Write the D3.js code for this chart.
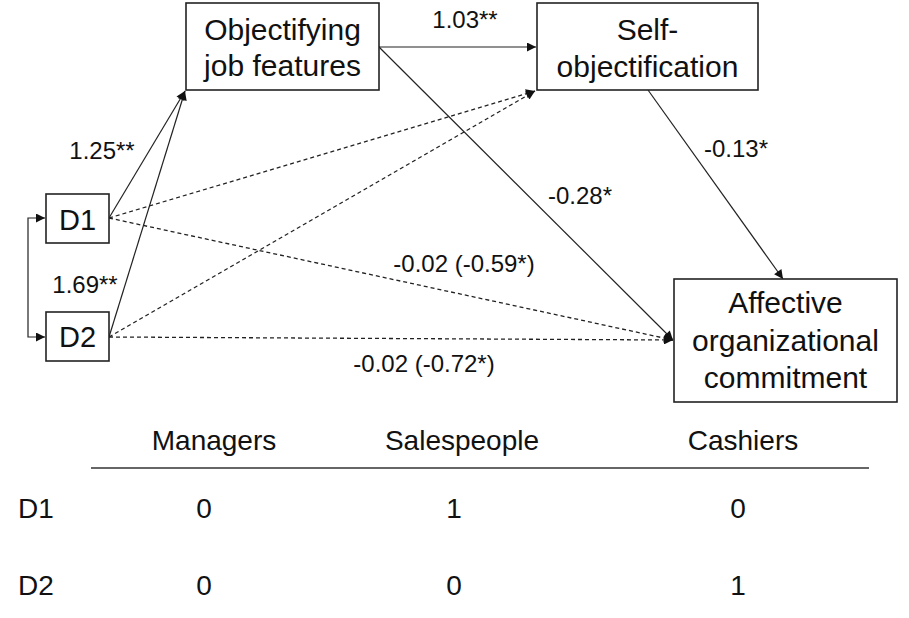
<!DOCTYPE html>
<html>
<head>
<meta charset="utf-8">
<script src="https://cdn.jsdelivr.net/npm/d3@7"></script>
<style>
  body { margin: 0; background: #fff; }
  svg { display: block; font-family: "Liberation Sans", Arial, sans-serif; }
</style>
</head>
<body>
<div id="chart"></div>
<script>
// model variables
const nodeIds = ['D1', 'D2', 'obj', 'self', 'aoc'];
const nodeLabels = [['D1'], ['D2'], ['Objectifying', 'job features'], ['Self-', 'objectification'], ['Affective', 'organizational', 'commitment']];

// structural paths
const pathFrom = ['D1', 'D2', 'obj', 'obj', 'self', 'D1', 'D2', 'D1', 'D2'];
const pathTo = ['obj', 'obj', 'self', 'aoc', 'aoc', 'self', 'self', 'aoc', 'aoc'];
const pathCoef = ['1.25**', '1.69**', '1.03**', '-0.28*', '-0.13*', '', '', '-0.02 (-0.59*)', '-0.02 (-0.72*)'];
const pathSignificant = [true, true, true, true, true, false, false, false, false];

// dummy coding table
const groups = ['Managers', 'Salespeople', 'Cashiers'];
const dummies = ['D1', 'D2'];
const codesD1 = [0, 1, 0];
const codesD2 = [0, 0, 1];

const width = 909, height = 618;

// layout of the boxes (x, y, w, h) and text baselines
const boxes = {
  D1: { x: 46, y: 194, w: 63, h: 49, base: [230], size: 29 },
  D2: { x: 46, y: 312, w: 63, h: 49, base: [347], size: 29 },
  obj: { x: 186, y: 3, w: 193, h: 87, base: [40, 76], size: 30 },
  self: { x: 537, y: 3, w: 221, h: 87, base: [40, 77], size: 30 },
  aoc: { x: 674, y: 279, w: 223, h: 123, base: [313, 351, 388], size: 30 }
};

// where each path leaves / arrives, and where its label sits
const anchors = {
  'D1-obj': { a: [109, 218], b: [185, 91], l: [102, 159] },
  'D2-obj': { a: [109, 337], b: [185, 91], l: [85, 293] },
  'obj-self': { a: [379, 47], b: [536, 47], l: [465, 28] },
  'obj-aoc': { a: [379, 47], b: [673, 340], l: [580, 204] },
  'self-aoc': { a: [648, 90], b: [783, 279], l: [736, 157] },
  'D1-self': { a: [109, 218], b: [535, 91] },
  'D2-self': { a: [109, 337], b: [535, 91] },
  'D1-aoc': { a: [109, 218], b: [673, 340], l: [464, 272] },
  'D2-aoc': { a: [109, 337], b: [673, 340], l: [424, 372] }
};

const svg = d3.select('#chart')
  .append('svg')
  .attr('width', width)
  .attr('height', height);

svg.append('defs').append('marker')
  .attr('id', 'head')
  .attr('viewBox', '0 0 10 10')
  .attr('refX', 10)
  .attr('refY', 5)
  .attr('markerUnits', 'userSpaceOnUse')
  .attr('markerWidth', 11)
  .attr('markerHeight', 9)
  .attr('orient', 'auto-start-reverse')
  .append('path')
  .attr('d', 'M0,0 L10,5 L0,10 z')
  .attr('fill', '#111');

let paths = pathFrom.map((f, i) => {
  let key = f + '-' + pathTo[i];
  return { key, coef: pathCoef[i], sig: pathSignificant[i], pos: anchors[key] };
});

// arrows
svg.append('g')
  .selectAll('line')
  .data(paths)
  .enter().append('line')
  .attr('x1', d => d.pos.a[0])
  .attr('y1', d => d.pos.a[1])
  .attr('x2', d => d.pos.b[0])
  .attr('y2', d => d.pos.b[1])
  .attr('stroke', '#222')
  .attr('stroke-width', d => d.sig ? 1.2 : 1.3)
  .attr('stroke-dasharray', d => d.sig ? null : '4,3')
  .attr('marker-end', 'url(#head)');

// covariance between the dummies
svg.append('path')
  .attr('d', 'M45,218 H28 V337 H45')
  .attr('fill', 'none')
  .attr('stroke', '#222')
  .attr('stroke-width', 1.2)
  .attr('marker-start', 'url(#head)')
  .attr('marker-end', 'url(#head)');

// coefficients
svg.append('g')
  .selectAll('text')
  .data(paths.filter(d => d.coef))
  .enter().append('text')
  .attr('x', d => d.pos.l[0])
  .attr('y', d => d.pos.l[1])
  .attr('text-anchor', 'middle')
  .attr('font-size', 24)
  .attr('fill', '#111')
  .text(d => d.coef);

// boxes
let nodes = svg.append('g')
  .selectAll('g')
  .data(nodeIds.map((id, i) => ({ id, lines: nodeLabels[i], box: boxes[id] })))
  .enter().append('g');

nodes.append('rect')
  .attr('x', d => d.box.x)
  .attr('y', d => d.box.y)
  .attr('width', d => d.box.w)
  .attr('height', d => d.box.h)
  .attr('fill', '#fff')
  .attr('stroke', '#222')
  .attr('stroke-width', 1.6);

nodes.each(function(d) {
  d3.select(this).selectAll('text')
    .data(d.lines)
    .enter().append('text')
    .attr('x', d.box.x + d.box.w / 2)
    .attr('y', (t, j) => d.box.base[j])
    .attr('text-anchor', 'middle')
    .attr('font-size', d.box.size)
    .attr('fill', '#111')
    .text(t => t);
});

// table
let headX = d3.scaleOrdinal().domain(groups).range([214, 462, 743]);
let cellX = d3.scaleOrdinal().domain(groups).range([204, 454, 738]);
let row = d3.scaleOrdinal().domain(dummies).range([518, 595]);
let codes = { D1: codesD1, D2: codesD2 };

let table = svg.append('g').attr('font-size', 28).attr('fill', '#111');

table.selectAll('.head')
  .data(groups)
  .enter().append('text')
  .attr('class', 'head')
  .attr('x', d => headX(d))
  .attr('y', 450)
  .attr('text-anchor', 'middle')
  .text(d => d);

table.append('line')
  .attr('x1', 91)
  .attr('x2', 869)
  .attr('y1', 468)
  .attr('y2', 468)
  .attr('stroke', '#666')
  .attr('stroke-width', 2);

table.selectAll('.rowname')
  .data(dummies)
  .enter().append('text')
  .attr('class', 'rowname')
  .attr('x', 18)
  .attr('y', d => row(d))
  .text(d => d);

dummies.forEach(dm => {
  table.selectAll('.v' + dm)
    .data(codes[dm])
    .enter().append('text')
    .attr('class', 'v' + dm)
    .attr('x', (v, i) => cellX(groups[i]))
    .attr('y', row(dm))
    .attr('text-anchor', 'middle')
    .text(v => v);
});
</script>
</body>
</html>
